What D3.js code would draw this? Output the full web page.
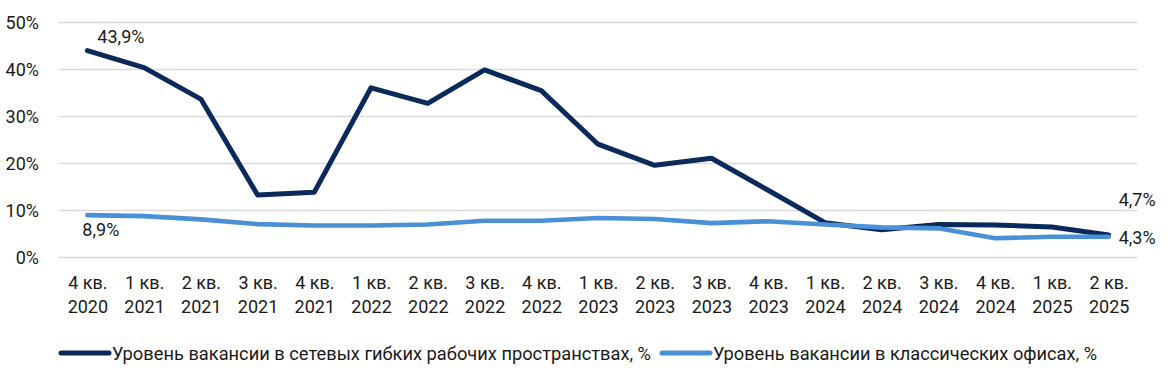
<!DOCTYPE html>
<html>
<head>
<meta charset="utf-8">
<script src="https://cdn.jsdelivr.net/npm/d3@7"></script>
<style>
  body { margin: 0; background: #fff; }
  svg text { font-family: Roboto, "Noto Sans", sans-serif; fill: #1a1a1a; }
</style>
</head>
<body>
<svg id="chart" width="1168" height="391"></svg>
<script>
// quarters (two lines each)
const quarters = ["4 кв.", "1 кв.", "2 кв.", "3 кв.", "4 кв.", "1 кв.", "2 кв.", "3 кв.", "4 кв.", "1 кв.",
  "2 кв.", "3 кв.", "4 кв.", "1 кв.", "2 кв.", "3 кв.", "4 кв.", "1 кв.", "2 кв."];
const years = ["2020", "2021", "2021", "2021", "2021", "2022", "2022", "2022", "2022", "2023",
  "2023", "2023", "2023", "2024", "2024", "2024", "2024", "2025", "2025"];

const flexVacancy = [43.9, 40.3, 33.6, 13.2, 13.8, 36.0, 32.7, 39.8, 35.4, 24.0,
  19.5, 21.0, 14.2, 7.3, 5.8, 6.9, 6.8, 6.4, 4.7];
const officeVacancy = [8.9, 8.7, 8.0, 7.0, 6.7, 6.7, 6.9, 7.7, 7.7, 8.3,
  8.1, 7.2, 7.6, 6.9, 6.3, 6.1, 4.0, 4.3, 4.3];

const yTicks = [0, 10, 20, 30, 40, 50];

const seriesNames = ["Уровень вакансии в сетевых гибких рабочих пространствах, %",
  "Уровень вакансии в классических офисах, %"];
const seriesColors = ["#0b2a5b", "#4a90d6"];

const svg = d3.select("#chart");
const mLeft = 59, mRight = 1137, mTop = 22, mBottom = 257;
const fs = 18;

const cats = quarters.map((q, i) => i);
const x = d3.scalePoint().domain(cats).range([mLeft, mRight]).padding(0.5);
const y = d3.scaleLinear().domain([0, 50]).range([mBottom, mTop]);

// grid + y labels
const yAxis = svg.append("g")
  .attr("transform", "translate(" + mLeft + ",0)")
  .call(d3.axisLeft(y).tickValues(yTicks).tickSize(-(mRight - mLeft)).tickPadding(20).tickFormat(d => d + "%"));
yAxis.select(".domain").remove();
yAxis.selectAll(".tick line").attr("stroke", "#d9d9d9").attr("stroke-width", 1.6);
yAxis.selectAll(".tick text").attr("font-size", fs).attr("font-family", "Roboto").attr("dy", "0.38em");

// x labels
const xAxis = svg.append("g")
  .attr("transform", "translate(0," + mBottom + ")")
  .call(d3.axisBottom(x).tickSize(0).tickFormat(""));
xAxis.select(".domain").remove();
xAxis.selectAll(".tick text").remove();
xAxis.selectAll(".tick").append("text")
  .attr("text-anchor", "middle")
  .attr("font-size", fs)
  .each(function (d) {
    const t = d3.select(this);
    t.append("tspan").attr("x", 0).attr("y", 32).text(quarters[d]);
    t.append("tspan").attr("x", 0).attr("y", 56).text(years[d]);
  });

// lines (office series drawn last, on top, like the original)
const line = d3.line().x((d, i) => x(i)).y(d => y(d));
const series = [flexVacancy, officeVacancy];
const widths = [5, 4.6];
series.forEach((s, k) => {
  svg.append("path")
    .datum(s)
    .attr("fill", "none")
    .attr("stroke", seriesColors[k])
    .attr("stroke-width", widths[k])
    .attr("stroke-linejoin", "round")
    .attr("stroke-linecap", "round")
    .attr("d", line);
});

// data labels
const last = quarters.length - 1;
const fmt = v => String(v.toFixed(1)).replace(".", ",") + "%";
svg.append("text").attr("x", x(0) + 10).attr("y", y(flexVacancy[0]) - 8)
  .attr("font-size", fs).text(fmt(flexVacancy[0]));
svg.append("text").attr("x", x(0) - 5).attr("y", y(officeVacancy[0]) + 21)
  .attr("font-size", fs).text(fmt(officeVacancy[0]));
svg.append("text").attr("x", x(last) + 10).attr("y", y(flexVacancy[last]) - 29)
  .attr("font-size", fs).text(fmt(flexVacancy[last]));
svg.append("text").attr("x", x(last) + 10).attr("y", y(officeVacancy[last]) + 7.5)
  .attr("font-size", fs).text(fmt(officeVacancy[last]));

// legend
const legendWidths = [539, 384];
const legend = svg.append("g").attr("transform", "translate(61,353)");
let lx = 0;
seriesNames.forEach((name, i) => {
  const g = legend.append("g").attr("transform", "translate(" + lx + ",0)");
  g.append("line").attr("x1", 0).attr("x2", 48).attr("y1", 0).attr("y2", 0)
    .attr("stroke", seriesColors[i]).attr("stroke-width", 5).attr("stroke-linecap", "round");
  g.append("text").attr("x", 51).attr("y", 6.5).attr("font-size", fs)
    .attr("textLength", legendWidths[i]).attr("lengthAdjust", "spacingAndGlyphs")
    .text(name);
  lx += 51 + legendWidths[i] + 11;
});
</script>
</body>
</html>
